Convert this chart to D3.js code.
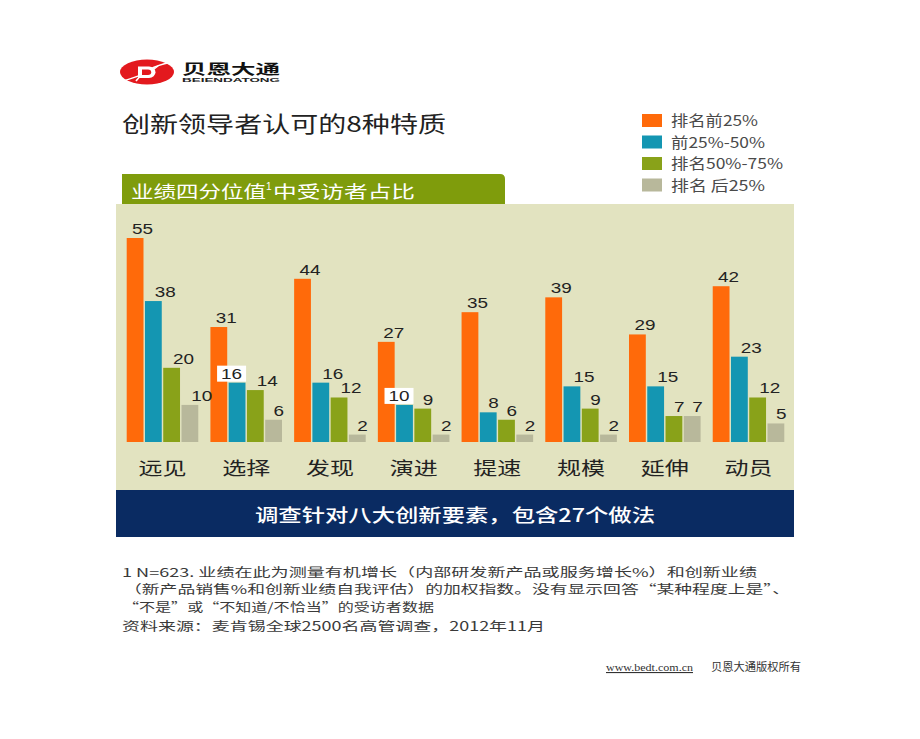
<!DOCTYPE html>
<html><head><meta charset="utf-8">
<script src="https://cdn.jsdelivr.net/npm/d3@7"></script>
<style>body{margin:0;background:#fff}svg{display:block}</style>
</head><body>
<script>
// ---- data ----
const categories = ["远见","选择","发现","演进","提速","规模","延伸","动员"];
const seriesNames = ["排名前25%","前25%-50%","排名50%-75%","排名 后25%"];
const top25    = [55,31,44,27,35,39,29,42];
const q2       = [38,16,16,10,8,15,15,23];
const q3       = [20,14,12,9,6,9,7,12];
const bottom25 = [10,6,2,2,2,2,7,5];
const boxedLabels = [["选择",1],["演进",1]];
const titleText = "创新领导者认可的8种特质";
const subtitleA = "业绩四分位值", subtitleSup = "1", subtitleB = "中受访者占比";
const bannerText = "调查针对八大创新要素，包含27个做法";
const noteLines = [
  "1 N=623. 业绩在此为测量有机增长（内部研发新产品或服务增长%）和创新业绩",
  "（新产品销售%和创新业绩自我评估）的加权指数。没有显示回答\u201c某种程度上是\u201d、",
  "\u201c不是\u201d或\u201c不知道/不恰当\u201d的受访者数据"
];
const sourceText = "资料来源：麦肯锡全球2500名高管调查，2012年11月";
const footerUrl = "www.bedt.com.cn";
const footerRights = "贝恩大通版权所有";
const logoCn = "贝恩大通", logoEn = "BEIENDATONG";

const seriesValues = [top25, q2, q3, bottom25];
const colors = ["#FF6A0A","#1496B2","#89A219","#B8B89B"];

// ---- setup ----
const W = 920, H = 739;
const CJK = "'Noto Sans CJK SC','Noto Sans',sans-serif";
const LAT = "'Liberation Sans',Arial,'Noto Sans CJK SC',sans-serif";
const svg = d3.select("body").append("svg").attr("width", W).attr("height", H);

function txt(str, x, y, o) {
  const t = svg.append("text").attr("x", x).attr("y", y).text(str)
    .attr("font-family", o.family || CJK).attr("font-size", o.size)
    .attr("fill", o.fill || "#222").attr("text-anchor", o.anchor || "start");
  if (o.weight) t.attr("font-weight", o.weight);
  if (o.len) t.attr("textLength", o.len).attr("lengthAdjust", "spacingAndGlyphs");
  return t;
}

// ---- logo ----
const logo = svg.append("g");
logo.append("ellipse").attr("cx", 147).attr("cy", 72).attr("rx", 27).attr("ry", 12.5).attr("fill", "#E3191E");
logo.append("path").attr("d", "M136,81 C142,73 152,66 170,62.5").attr("stroke", "#fff").attr("stroke-width", 1.6).attr("fill", "none");
logo.append("path").attr("d", "M123,81 C134,77 150,74 158,66").attr("stroke", "#fff").attr("stroke-width", 1.2).attr("fill", "none");
logo.append("path").attr("d", "M138,66.5 L149,66.5 A6.5,5.75 0 0 1 149,78 L138,78 Z").attr("fill", "#fff");
logo.append("path").attr("d", "M142,69.5 L148,69.5 A3.2,2.75 0 0 1 148,75 L142,75 Z").attr("fill", "#E3191E");
txt(logoCn, 182, 73.5, {size: 14, weight: "bold", fill: "#111", len: 98});
txt(logoEn, 182, 81.5, {size: 5, weight: "bold", fill: "#222", family: LAT, len: 98});

// ---- title ----
txt(titleText, 122, 132, {size: 22, fill: "#222", len: 324});

// ---- legend ----
const legendY = [120.5, 142, 163.5, 185];
const legendLen = [87, 94, 112, 94];
seriesNames.forEach((s, i) => {
  svg.append("rect").attr("x", 642).attr("y", legendY[i] - 6.5).attr("width", 20).attr("height", 13).attr("fill", colors[i]);
  txt(s, 671, legendY[i] + 5.5, {size: 15, fill: "#4a4a4a", len: legendLen[i]});
});

// ---- panel ----
svg.append("path").attr("d", "M122,204 L122,174 L500,174 Q505,174 505,179 L505,204 Z").attr("fill", "#7F9C0C");
svg.append("rect").attr("x", 116).attr("y", 204).attr("width", 678).attr("height", 287).attr("fill", "#E2E3C0");
svg.append("rect").attr("x", 116).attr("y", 490).attr("width", 678).attr("height", 47).attr("fill", "#0A2B62");
txt(subtitleA, 131, 197.5, {size: 17, fill: "#fff", len: 135});
txt(subtitleSup, 266, 189.5, {size: 10, fill: "#fff", family: LAT});
txt(subtitleB, 273, 197.5, {size: 17, fill: "#fff", len: 142});

// ---- scales ----
const x0 = d3.scaleBand().domain(categories).range([126.7, 784.3]).paddingInner(0.145).paddingOuter(0);
const x1 = d3.scaleBand().domain(d3.range(seriesNames.length)).range([0, x0.bandwidth()]).paddingInner(0.08);
const y = d3.scaleLinear().domain([0, 55]).range([442, 238]);

const rows = [];
categories.forEach((c, ci) => seriesValues.forEach((vals, si) => rows.push({c, si, v: vals[ci]})));

const g = svg.append("g");
g.selectAll("rect.bar").data(rows).join("rect").attr("class", "bar")
  .attr("x", d => x0(d.c) + x1(d.si)).attr("width", x1.bandwidth())
  .attr("y", d => y(d.v)).attr("height", d => y(0) - y(d.v))
  .attr("fill", d => colors[d.si]);

const isBoxed = d => boxedLabels.some(b => b[0] === d.c && b[1] === d.si);
rows.forEach(d => {
  const cx = x0(d.c) + x1(d.si) + x1.bandwidth() / 2;
  const s = String(d.v);
  const w = s.length * 10.5;
  if (isBoxed(d)) {
    g.append("rect").attr("x", cx + 5 - w - 4).attr("y", y(d.v) - 17).attr("width", w + 8).attr("height", 16).attr("fill", "#fff");
    txt(s, cx + 5, y(d.v) - 4, {size: 15, family: LAT, fill: "#222", anchor: "end", len: w});
  } else {
    txt(s, cx - (d.si === 0 ? 3 : 0) + (s.length === 2 && d.si > 0 ? 1.5 : 0), y(d.v) - 4, {size: 15, family: LAT, fill: "#222", len: w});
  }
});

// category labels
categories.forEach(c => {
  txt(c, x0(c) + x0.bandwidth() / 2, 475, {size: 18, fill: "#222", anchor: "middle", len: 48});
});

// banner
txt(bannerText, 455, 522, {size: 18, fill: "#fff", anchor: "middle", len: 400, weight: 500});

// notes
const noteX = [122, 124, 123];
const noteLen = [635, 666, 311];
const noteY = [576.5, 594, 611.5];
noteLines.forEach((l, i) => txt(l, noteX[i], noteY[i], {size: 12, fill: "#3a3a3a", len: noteLen[i]}));
txt(sourceText, 122, 630.5, {size: 12.5, fill: "#3a3a3a", len: 423});

// footer
txt(footerUrl, 606, 671, {size: 11, fill: "#333", family: "'Liberation Serif','DejaVu Serif',serif", len: 87}).attr("text-decoration", "underline");
txt(footerRights, 711, 671, {size: 11.5, fill: "#333", len: 90});
</script>
</body></html>
